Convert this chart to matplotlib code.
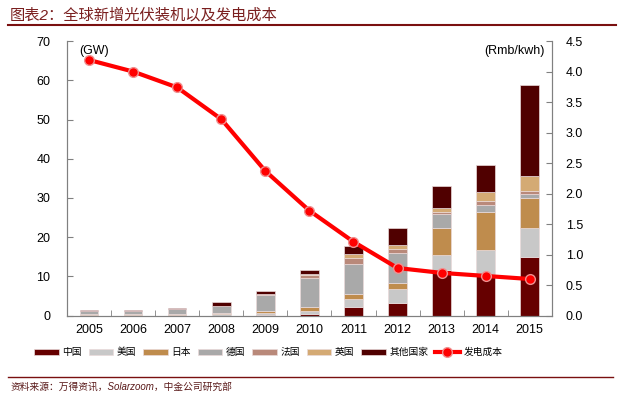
import matplotlib
matplotlib.use("Agg")
import matplotlib.pyplot as plt
import numpy as np
from matplotlib.lines import Line2D

plt.rcParams['font.family'] = ['Liberation Sans', 'Noto Sans CJK SC', 'DejaVu Sans']

# data
years = ['2005', '2006', '2007', '2008', '2009', '2010', '2011', '2012', '2013', '2014', '2015']
china = [0.0, 0.0, 0.0, 0.0, 0.2, 0.5, 2.2, 3.3, 11.6, 10.3, 14.9]
us = [0.1, 0.1, 0.15, 0.3, 0.4, 0.8, 2.0, 3.4, 3.9, 6.4, 7.4]
japan = [0.3, 0.3, 0.2, 0.3, 0.5, 0.9, 1.3, 1.5, 6.9, 9.6, 7.8]
germany = [0.9, 0.85, 1.3, 1.9, 4.1, 7.4, 7.7, 7.7, 3.4, 1.9, 0.9]
france = [0.0, 0.05, 0.05, 0.05, 0.2, 0.8, 1.6, 1.0, 0.5, 0.9, 0.8]
uk = [0.0, 0.0, 0.0, 0.0, 0.0, 0.1, 0.9, 1.0, 1.1, 2.5, 3.7]
other = [0.1, 0.2, 0.2, 0.8, 0.9, 1.1, 2.1, 4.4, 5.7, 6.8, 23.4]
cost = [4.19, 4.0, 3.74, 3.22, 2.37, 1.72, 1.21, 0.78, 0.70, 0.65, 0.60]

series = [('中国', china, '#660000'),
          ('美国', us, '#c8c8c8'),
          ('日本', japan, '#bf8c4d'),
          ('德国', germany, '#a9a9a9'),
          ('法国', france, '#b9897a'),
          ('英国', uk, '#d4aa74'),
          ('其他国家', other, '#500000')]

fig = plt.figure(figsize=(6.27, 3.95), dpi=100)
ax = fig.add_axes([0.107, 0.201, 0.773, 0.695])
x = np.arange(len(years))
bottom = np.zeros(len(years))
handles = []
for name, vals, col in series:
    b = ax.bar(x, vals, 0.42, bottom=bottom, color=col, edgecolor='#eadada', linewidth=0.5, label=name)
    bottom += np.array(vals)
    handles.append(b)

ax.set_xlim(-0.5, len(years) - 0.5)
ax.set_ylim(0, 70)
ax.set_yticks(range(0, 71, 10))
ax.set_xticks(x)
ax.set_xticklabels(years)
ax.set_xticks(np.arange(-0.5, len(years), 1), minor=True)
ax.tick_params(axis='x', which='major', length=0, pad=6, labelsize=9)
ax.tick_params(axis='x', which='minor', direction='in', length=4, color='#808080')
ax.tick_params(axis='y', direction='in', length=4, color='#808080', pad=12, labelsize=9)
for s in ['left', 'bottom', 'right']:
    ax.spines[s].set_color('#808080')
ax.spines['top'].set_visible(False)

ax2 = ax.twinx()
ax2.set_ylim(0, 4.5)
ax2.set_yticks(np.arange(0, 4.51, 0.5))
ax2.set_yticklabels(['%.1f' % v for v in np.arange(0, 4.51, 0.5)])
ax2.tick_params(axis='y', direction='in', length=4, color='#808080', pad=10, labelsize=9)
for s in ['left', 'bottom', 'right']:
    ax2.spines[s].set_color('#808080')
ax2.spines['top'].set_visible(False)
ln, = ax2.plot(x, cost, color='#ff0000', lw=3, marker='o', ms=7,
               mfc='#ff0000', mec='#f09090', mew=1, label='发电成本')

ax.text(0.025, 0.985, '(GW)', transform=ax.transAxes, fontsize=9, va='top')
ax2.text(0.985, 0.985, '(Rmb/kwh)', transform=ax.transAxes, fontsize=9, va='top', ha='right')

fig.legend(handles + [ln], [s[0] for s in series] + ['发电成本'], loc='center',
           bbox_to_anchor=(0.428, 0.108), ncol=8, frameon=False, fontsize=7,
           handlelength=2.5, handleheight=0.6, handletextpad=0.4, columnspacing=0.7)

# title, rules and source
fig.text(0.016, 0.962, '图表2：全球新增光伏装机以及发电成本', fontsize=11, color='#7a1f1f',
         va='center', style='italic')
fig.add_artist(Line2D([0.013, 0.982], [0.937, 0.937], color='#7a1010', lw=1.5))
fig.add_artist(Line2D([0.013, 0.977], [0.046, 0.046], color='#7a1010', lw=1))
fig.text(0.016, 0.022, '资料来源：万得资讯，Solarzoom，中金公司研究部', fontsize=7,
         color='#5a1a1a', va='center', style='italic')

fig.savefig('out.png', dpi=100)
